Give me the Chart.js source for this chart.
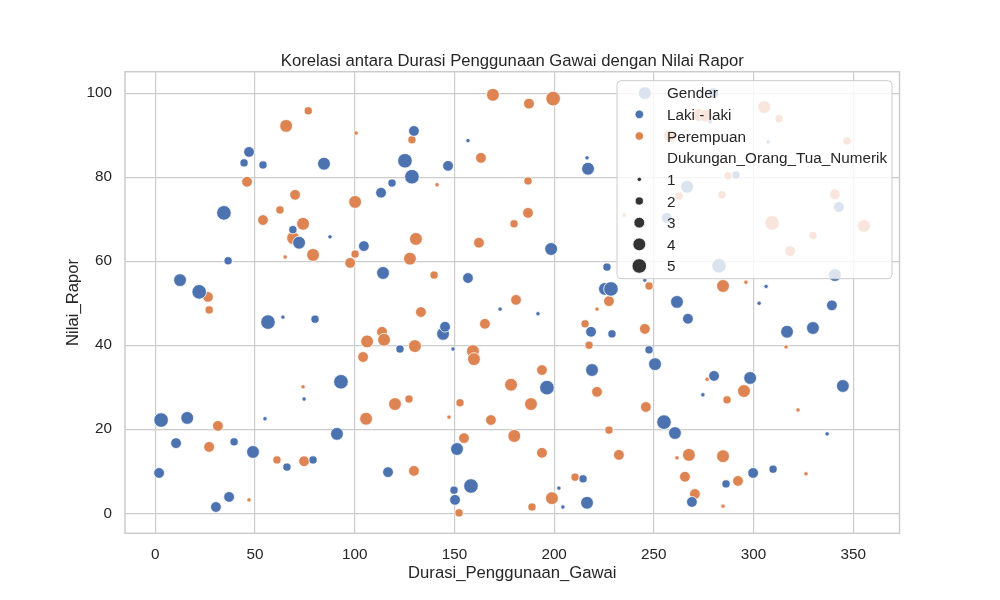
<!DOCTYPE html>
<html><head><meta charset="utf-8">
<script src="https://cdn.jsdelivr.net/npm/chart.js@4.4.1/dist/chart.umd.min.js"></script>
<style>html,body{margin:0;padding:0;background:#fff;} #wrap{width:1000px;height:600px;}</style>
</head><body><div id="wrap"><canvas id="c" width="1000" height="600"></canvas></div>
<script>
const chartTitle = 'Korelasi antara Durasi Penggunaan Gawai dengan Nilai Rapor';
const xLabel = 'Durasi_Penggunaan_Gawai';
const yLabel = 'Nilai_Rapor';
const xTicks = [0, 50, 100, 150, 200, 250, 300, 350];
const yTicks = [0, 20, 40, 60, 80, 100];
const hueTitle = 'Gender';
const genderLabels = ['Laki - laki', 'Perempuan'];
const sizeTitle = 'Dukungan_Orang_Tua_Numerik';
const supportLevels = [1, 2, 3, 4, 5];

const maleX = [2.9,1.9,10.4,16.0,12.4,22.0,30.4,37.0,39.5,34.4,
 36.5,44.5,47.0,49.0,54.0,56.5,55.0,64.0,66.0,69.0,
 72.1,74.6,79.1,80.1,84.6,87.6,91.1,93.1,104.6,113.2,
 114.2,116.7,118.7,122.7,125.2,128.7,129.7,144.3,145.3,146.8,
 149.3,149.8,150.3,151.3,156.8,156.8,158.3,172.9,191.9,196.4,
 198.5,202.4,204.4,214.5,216.5,217.0,216.5,219.0,218.5,226.5,
 225.5,228.5,229.0,245.5,247.6,250.6,255.1,260.6,261.6,267.1,
 269.1,286.2,274.6,280.2,282.7,298.3,299.8,302.8,306.3,309.8,
 316.8,329.8,336.9,339.3,340.8,344.8,342.8,266.7,291.2,307.3,
 278.2,245.5,279.8,256.5];
const maleY = [22.2,9.6,16.7,22.7,55.5,52.7,1.5,3.9,17.0,71.5,
 60.1,83.4,86.0,14.6,82.9,45.5,22.5,46.7,11.0,67.5,
 64.4,27.2,12.7,46.2,83.2,65.8,18.9,31.3,63.6,76.3,
 57.2,9.8,78.6,39.1,83.9,80.1,91.0,42.7,44.4,82.7,
 39.1,5.5,3.2,15.3,88.7,56.0,6.5,48.6,47.5,29.9,
 62.9,6.0,1.5,8.2,2.5,82.0,84.6,34.1,43.2,58.6,
 53.4,53.4,42.7,55.5,38.9,35.5,21.7,19.1,50.3,46.3,
 2.7,7.0,28.2,32.7,58.9,32.2,9.6,50.0,54.0,10.5,
 43.2,44.1,18.9,49.5,56.7,30.3,72.9,77.7,80.5,88.4,
 93.2,100.0,100.0,70.3];
const maleSupport = [5,3,3,4,4,5,3,3,2,5,
 2,2,3,4,2,5,1,1,2,2,
 4,1,2,2,4,1,4,5,3,3,
 4,3,2,2,5,5,3,4,3,3,
 1,2,3,4,1,3,5,1,1,5,
 4,1,1,2,4,4,1,4,3,2,
 4,5,2,1,2,4,5,4,4,3,
 3,2,1,3,5,4,3,1,1,2,
 4,4,1,3,4,4,3,4,2,1,
 1,4,3,3];

const femaleX = [76.7,65.6,100.7,46.0,70.1,100.2,62.5,54.0,74.1,69.1,
 65.1,79.1,100.2,97.7,26.4,27.0,106.2,113.7,114.7,104.2,
 74.1,105.7,31.4,27.0,61.0,74.6,47.0,169.3,187.4,199.5,
 128.7,163.3,141.3,186.9,186.9,179.9,130.7,162.3,127.7,139.8,
 180.9,227.5,235.1,133.2,221.5,165.3,215.5,130.2,159.3,159.8,
 217.5,193.9,178.4,221.5,127.2,120.2,152.8,188.4,147.3,168.3,
 227.5,154.8,180.0,193.9,232.5,129.7,210.5,198.9,188.9,152.3,
 245.5,316.3,276.7,295.2,286.7,246.0,322.3,261.6,267.6,284.7,
 326.3,265.6,292.2,270.6,284.7,305.4,312.8,272.7,276.2,258.1,
 346.9,287.2,284.2,262.6,340.8,309.3,355.4,329.8,318.3,284.7,
 296.2,247.6];
const femaleY = [95.8,92.2,90.5,78.9,75.8,74.1,72.2,69.8,68.9,65.5,
 61.0,61.5,61.7,59.6,51.5,48.4,40.9,43.2,41.3,37.2,
 30.1,22.5,20.8,15.8,12.7,12.4,3.2,99.6,97.5,98.7,
 88.9,84.6,78.2,79.1,71.5,68.9,65.3,64.4,60.6,56.7,
 50.8,50.5,71.0,47.9,48.6,45.1,45.1,39.8,38.6,36.7,
 40.0,34.1,30.6,28.9,27.2,26.0,26.3,26.0,22.9,22.2,
 19.8,17.9,18.4,14.4,13.9,10.1,8.6,3.6,1.5,0.1,
 43.9,39.6,31.9,29.1,27.0,25.3,24.6,13.2,13.9,13.6,
 9.4,8.7,7.7,4.6,1.7,96.7,93.9,94.8,94.6,89.8,
 88.6,80.3,75.8,75.5,75.9,69.1,68.4,66.1,62.4,54.1,
 55.0,54.1];
const femaleSupport = [2,4,1,3,3,4,2,3,4,4,
 1,4,2,3,3,2,4,3,4,3,
 1,4,3,3,2,3,1,4,3,5,
 2,3,1,2,3,2,4,3,4,2,
 3,3,1,3,1,3,2,4,4,4,
 2,3,4,3,2,4,2,4,1,3,
 2,3,4,3,3,3,2,4,2,2,
 3,1,1,4,2,3,1,1,4,4,
 1,3,3,3,1,4,2,4,4,4,
 2,2,2,2,3,5,4,2,3,4,
 1,2];

const FONT = "'Liberation Sans', Arial, sans-serif";
const TEXT = '#262626';
const BLUE = '#4C72B0', ORANGE = '#DD8452', SIZE_GRAY = '#333333';

// area-linear size mapping (seaborn style)
const R_MIN = 2.2, R_MAX = 7.3;
function radiusFor(s) {
  return Math.sqrt(R_MIN * R_MIN + (s - 1) * (R_MAX * R_MAX - R_MIN * R_MIN) / 4);
}
function toPoints(xs, ys, ss) {
  return xs.map((x, i) => ({ x: x, y: ys[i], s: ss[i] }));
}

const frameAndTitle = {
  id: 'frameAndTitle',
  afterDatasetsDraw(chart) {
    const { ctx, chartArea: a } = chart;
    ctx.save();
    ctx.strokeStyle = '#cccccc';
    ctx.lineWidth = 1.5;
    ctx.strokeRect(a.left, a.top, a.right - a.left, a.bottom - a.top);
    ctx.restore();
  },
  afterDraw(chart) {
    const { ctx, chartArea: a } = chart;
    ctx.save();
    ctx.fillStyle = TEXT;
    ctx.font = '16.67px ' + FONT;
    ctx.textAlign = 'center';
    ctx.textBaseline = 'alphabetic';
    ctx.fillText(chartTitle, (a.left + a.right) / 2, a.top - 6.2);

    // legend box
    const w = 275, h = 198;
    const x0 = a.right - 7.5 - w, y0 = a.top + 9;
    const r = 4;
    ctx.beginPath();
    ctx.moveTo(x0 + r, y0);
    ctx.lineTo(x0 + w - r, y0);
    ctx.arcTo(x0 + w, y0, x0 + w, y0 + r, r);
    ctx.lineTo(x0 + w, y0 + h - r);
    ctx.arcTo(x0 + w, y0 + h, x0 + w - r, y0 + h, r);
    ctx.lineTo(x0 + r, y0 + h);
    ctx.arcTo(x0, y0 + h, x0, y0 + h - r, r);
    ctx.lineTo(x0, y0 + r);
    ctx.arcTo(x0, y0, x0 + r, y0, r);
    ctx.closePath();
    ctx.fillStyle = 'rgba(255,255,255,0.8)';
    ctx.fill();
    ctx.strokeStyle = '#cccccc';
    ctx.lineWidth = 1;
    ctx.stroke();

    const entries = [
      { label: hueTitle },
      { label: genderLabels[0], color: BLUE, r: 4.3 },
      { label: genderLabels[1], color: ORANGE, r: 4.3 },
      { label: sizeTitle }
    ];
    supportLevels.forEach(v => entries.push({ label: String(v), color: SIZE_GRAY, r: radiusFor(v) }));
    ctx.font = '15.28px ' + FONT;
    ctx.textAlign = 'left';
    ctx.textBaseline = 'alphabetic';
    entries.forEach((e, i) => {
      const cy = y0 + 12 + i * 21.66;
      if (e.color) {
        ctx.beginPath();
        ctx.arc(x0 + 22.3, cy, e.r, 0, Math.PI * 2);
        ctx.fillStyle = e.color;
        ctx.fill();
        ctx.strokeStyle = '#ffffff';
        ctx.lineWidth = 0.8;
        ctx.stroke();
      }
      ctx.fillStyle = TEXT;
      ctx.fillText(e.label, x0 + 50, cy + 5.5);
    });
    ctx.restore();
  }
};

const tickFont = { family: FONT, size: 15.28 };
const labelFont = { family: FONT, size: 16.67 };

new Chart(document.getElementById('c'), {
  type: 'scatter',
  data: {
    datasets: [
      {
        label: genderLabels[0],
        data: toPoints(maleX, maleY, maleSupport),
        backgroundColor: BLUE,
        borderColor: '#ffffff',
        borderWidth: 0.8,
        pointRadius: c => radiusFor(c.raw.s),
        pointHoverRadius: c => radiusFor(c.raw.s)
      },
      {
        label: genderLabels[1],
        data: toPoints(femaleX, femaleY, femaleSupport),
        backgroundColor: ORANGE,
        borderColor: '#ffffff',
        borderWidth: 0.8,
        pointRadius: c => radiusFor(c.raw.s),
        pointHoverRadius: c => radiusFor(c.raw.s)
      }
    ]
  },
  options: {
    responsive: false,
    animation: false,
    events: [],
    layout: { padding: { left: 0, right: 100.5, top: 71.7, bottom: 0 } },
    plugins: { legend: { display: false }, tooltip: { enabled: false }, title: { display: false } },
    scales: {
      x: {
        type: 'linear', min: -15.2, max: 373.2,
        afterBuildTicks: s => { s.ticks = xTicks.map(v => ({ value: v })); },
        afterFit: s => { s.height = 66.7; },
        grid: { color: '#cccccc', lineWidth: 1.2, drawTicks: false },
        border: { display: false },
        ticks: { padding: 12, color: TEXT, font: tickFont, maxRotation: 0, autoSkip: false },
        title: { display: true, text: xLabel, color: TEXT, font: labelFont, padding: { top: 0, bottom: 17 } }
      },
      y: {
        type: 'linear', min: -4.76, max: 105.1,
        afterBuildTicks: s => { s.ticks = yTicks.map(v => ({ value: v })); },
        afterFit: s => { s.width = 125; },
        grid: { color: '#cccccc', lineWidth: 1.2, drawTicks: false },
        border: { display: false },
        ticks: { padding: 13, color: TEXT, font: tickFont, autoSkip: false },
        title: { display: true, text: yLabel, color: TEXT, font: labelFont, padding: { top: 63, bottom: 0 } }
      }
    }
  },
  plugins: [frameAndTitle]
});
</script>
</body></html>
